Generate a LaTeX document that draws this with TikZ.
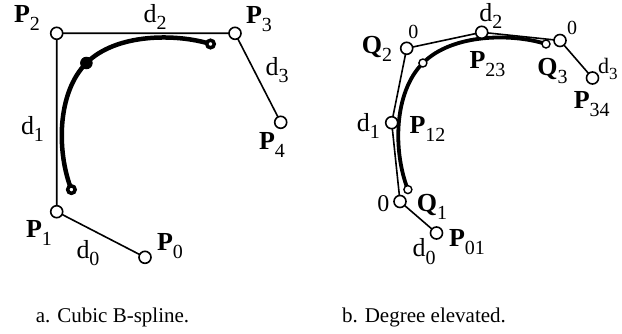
\documentclass[tikz,border=0pt]{standalone}
\usepackage{fontspec}
\setmainfont{Liberation Serif}
\newcommand\bsub[2]{\textbf{#1}\raisebox{-8pt}{\fontsize{20}{20}\selectfont #2}}
\newcommand\rsub[2]{#1\raisebox{-7.5pt}{\fontsize{20}{20}\selectfont #2}}
\newcommand\ssub[2]{#1\raisebox{-6pt}{\fontsize{17}{17}\selectfont #2}}
\begin{document}
\begin{tikzpicture}[x=1pt,y=-1pt,
  cpt/.style={circle,draw,fill=white,line width=1.6pt,inner sep=0pt,minimum size=12pt},
  spt/.style={circle,draw,fill=white,line width=1.4pt,inner sep=0pt,minimum size=8pt},
  kend/.style={circle,draw,fill=white,line width=3.5pt,inner sep=0pt,minimum size=7.5pt},
  kmid/.style={circle,draw,fill=black,line width=1pt,inner sep=0pt,minimum size=11.5pt},
  poly/.style={line width=1.6pt},
  crv/.style={line width=4.5pt},
  rcrv/.style={line width=3.8pt},
  lab/.style={inner sep=0pt,font=\fontsize{26}{26}\selectfont},
  slab/.style={inner sep=0pt,font=\fontsize{20}{20}\selectfont},
  captext/.style={inner sep=0pt,anchor=base,font=\fontsize{21}{21}\selectfont}]
\useasboundingbox (0,0) rectangle (622,334);
% ---------- left panel ----------
\coordinate (b0) at (71.4,189.6);
\coordinate (b1) at (56.7,152.2);
\coordinate (b2) at (56.7,92.8);
\coordinate (b3) at (86.4,63.0);
\coordinate (c1) at (116.1,33.3);
\coordinate (c2) at (175.6,33.3);
\coordinate (c3) at (210.5,44);
\coordinate (p0) at (145,257.3);
\coordinate (p1) at (56.7,211.7);
\coordinate (p2) at (56.7,33.3);
\coordinate (p3) at (235,33.3);
\coordinate (p4) at (280.7,122.3);
\draw[poly] (p0) -- (p1) -- (p2) -- (p3) -- (p4);
\draw[crv] (b0) .. controls (b1) and (b2) .. (b3) .. controls (c1) and (c2) .. (c3);
\node[kend] (e0) at (b0) {};
\node[kmid] (em) at (b3) {};
\node[kend] (e1) at (c3) {};
\foreach \n in {p0,p1,p2,p3,p4} \node[cpt] (n\n) at (\n) {};
\node[lab] (lP2) at (27,18) {\bsub{P}{2}};
\node[lab] (ld2) at (155,17) {\rsub{d}{2}};
\node[lab] (lP3) at (259,19) {\bsub{P}{3}};
\node[lab] (ld3) at (277,70) {\rsub{d}{3}};
\node[lab] (lP4) at (272,145) {\bsub{P}{4}};
\node[lab] (ld1) at (32.5,129) {\rsub{d}{1}};
\node[lab] (lP1) at (39,233.3) {\bsub{P}{1}};
\node[lab] (ld0) at (88,253.3) {\rsub{d}{0}};
\node[lab] (lP0) at (170,245.8) {\bsub{P}{0}};
% ---------- right panel ----------
\coordinate (rb0) at (407.9,189.6);
\coordinate (rb1) at (393.2,152.2);
\coordinate (rb2) at (393.2,92.8);
\coordinate (rb3) at (422.9,63.0);
\coordinate (rc1) at (452.6,33.3);
\coordinate (rc2) at (512.1,33.3);
\coordinate (rc3) at (546,44);
\coordinate (r01) at (436.5,233);
\coordinate (q1) at (400,201.5);
\coordinate (r12) at (391.7,122.7);
\coordinate (q2) at (406.7,48.3);
\coordinate (r23) at (481.7,32.3);
\coordinate (q3) at (560,40.5);
\coordinate (r34) at (592.5,78);
\draw[poly] (r01) -- (q1) -- (r12) -- (q2) -- (r23) -- (q3) -- (r34);
\draw[rcrv] (rb0) .. controls (rb1) and (rb2) .. (rb3) .. controls (rc1) and (rc2) .. (rc3);
\node[spt] (s0) at (rb0) {};
\node[spt] (sm) at (rb3) {};
\node[spt] (s1) at (rc3) {};
\foreach \n in {r01,q1,r12,q2,r23,q3,r34} \node[cpt] (n\n) at (\n) {};
\node[lab] (lQ2) at (377,49) {\bsub{Q}{2}};
\node[slab] (lz2) at (413.3,31.5) {0};
\node[lab] (rd2) at (490.8,15.8) {\rsub{d}{2}};
\node[lab] (lP23) at (487.5,64) {\bsub{P}{23}};
\node[slab] (lz3) at (572,27.5) {0};
\node[lab] (lQ3) at (552.5,70.8) {\bsub{Q}{3}};
\node[slab,anchor=west,font=\fontsize{22}{22}\selectfont] (rd3) at (598,69) {\ssub{d}{3}};
\node[lab] (lP34) at (591.7,104) {\bsub{P}{34}};
\node[lab] (rd1) at (368.3,126) {\rsub{d}{1}};
\node[lab] (lP12) at (427.5,129) {\bsub{P}{12}};
\node[lab,font=\fontsize{24}{24}\selectfont] (lz1) at (383.3,204) {0};
\node[lab] (lQ1) at (432,206.7) {\bsub{Q}{1}};
\node[lab] (lP01) at (467,241.7) {\bsub{P}{01}};
\node[lab] (rd0) at (424,251.7) {\rsub{d}{0}};
% ---------- captions ----------
\node[captext] (ca) at (112.5,323) {a. Cubic B-spline.};
\node[captext] (cb) at (424,323) {b. Degree elevated.};
\end{tikzpicture}
\end{document}
